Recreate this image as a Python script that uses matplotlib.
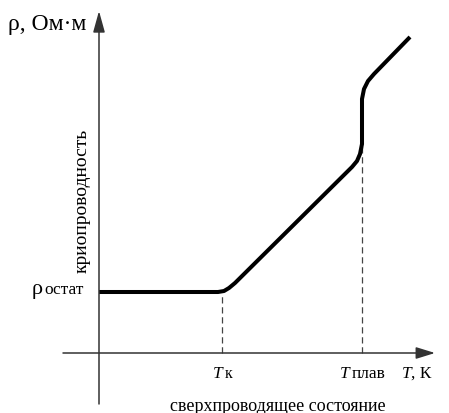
#!/usr/bin/env python3
"""Resistivity vs temperature sketch (cryoconductor / superconductor)."""

import matplotlib
matplotlib.use("Agg")
import matplotlib.pyplot as plt

plt.rcParams["font.family"] = ["Liberation Serif", "DejaVu Serif"]

# curve (arbitrary units, origin at axis crossing)
curve_T = [0, 119, 125, 130, 136, 253, 258, 261, 263, 263, 265, 269, 275, 311]
curve_rho = [61, 61, 62, 65, 70, 186, 192, 199, 209, 254, 264, 272, 279, 316]

T_k = 123
T_melt = 263
rho_at_Tk = 57
rho_at_Tmelt = 207

fig = plt.figure(figsize=(4.49, 4.14), dpi=100)
ax = fig.add_axes([0, 0, 1, 1])
ax.set_xlim(-99, 350)
ax.set_ylim(-60, 354)
ax.axis("off")

axis_color = "#333333"
# axes with arrows
ax.annotate("", xy=(0, 342), xytext=(0, -51),
            arrowprops=dict(arrowstyle="-|>,head_length=0.65,head_width=0.18",
                            mutation_scale=20, lw=1.1, color=axis_color,
                            shrinkA=0, shrinkB=0))
ax.annotate("", xy=(336, 0), xytext=(-36, 0),
            arrowprops=dict(arrowstyle="-|>,head_length=0.58,head_width=0.18",
                            mutation_scale=20, lw=1.1, color=axis_color,
                            shrinkA=0, shrinkB=0))

# dashed guides
ax.plot([T_k, T_k], [0, rho_at_Tk], ls=(0, (5, 3)), lw=0.9, color="#444444")
ax.plot([T_melt, T_melt], [0, rho_at_Tmelt], ls=(0, (5, 3)), lw=0.9, color="#444444")

# main curve
ax.plot(curve_T, curve_rho, color="black", lw=2.9, solid_capstyle="butt",
        solid_joinstyle="round")

# labels
ax.text(-91, 324, "ρ, Ом·м", fontsize=17, va="baseline", ha="left")
ax.text(-67, 60, "ρ", fontsize=16, va="baseline", ha="left")
ax.text(-55, 60, "остат", fontsize=12.5, va="baseline", ha="left")

ax.text(114, -24, "T", fontsize=12.5, style="italic", va="baseline", ha="left")
ax.text(126, -24, "к", fontsize=11.5, va="baseline", ha="left")
ax.text(241, -24, "T", fontsize=12.5, style="italic", va="baseline", ha="left")
ax.text(253, -24, "плав", fontsize=12.5, va="baseline", ha="left")
ax.text(303, -24, "T", fontsize=12.5, style="italic", va="baseline", ha="left")
ax.text(312, -24, ", К", fontsize=12.5, va="baseline", ha="left")

ax.text(179, -57, "сверхпроводящее состояние", fontsize=13, va="baseline",
        ha="center")
ax.text(-17, 153, "криопроводность", fontsize=14, rotation=90, va="center",
        ha="center")

fig.savefig("out.png", dpi=100)
